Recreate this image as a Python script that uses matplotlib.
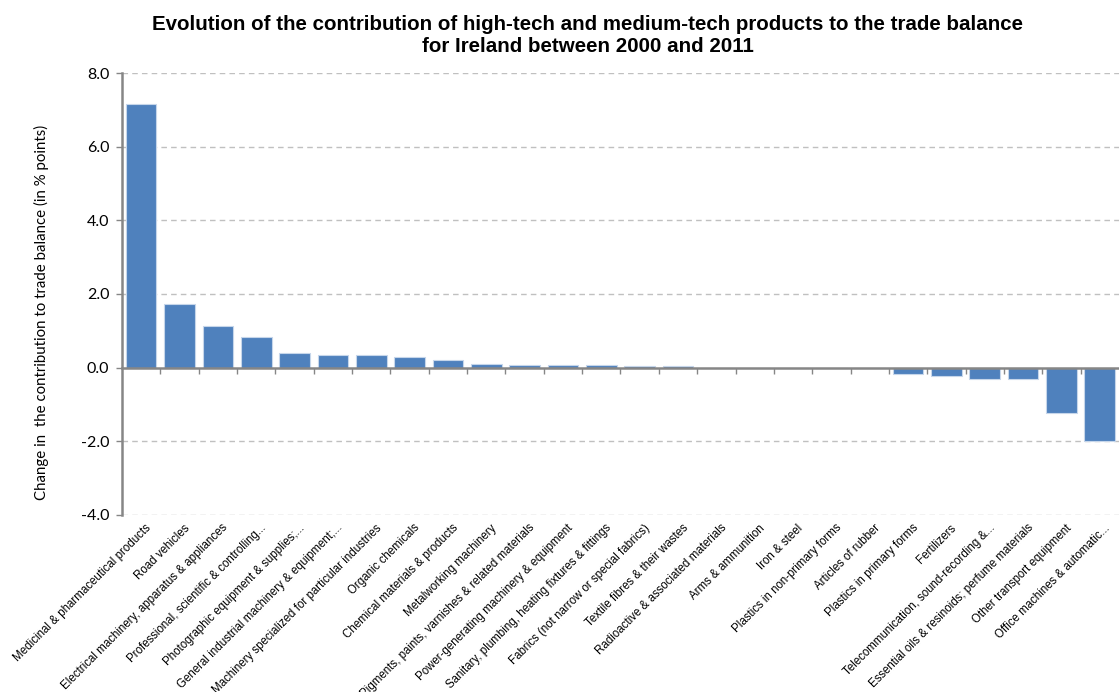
import matplotlib
matplotlib.use("Agg")
import matplotlib.pyplot as plt
import matplotlib.transforms as mtransforms
import numpy as np

# ===============================
# Data
# ===============================

products = [
    "Medicinal & pharmaceutical products",
    "Road vehicles",
    "Electrical machinery, apparatus & appliances",
    "Professional, scientific & controlling...",
    "Photographic equipment & supplies;...",
    "General industrial machinery & equipment;...",
    "Machinery specialized for particular industries",
    "Organic chemicals",
    "Chemical materials & products",
    "Metalworking machinery",
    "Pigments, paints, varnishes & related materials",
    "Power-generating machinery & equipment",
    "Sanitary, plumbing, heating fixtures & fittings",
    "Fabrics (not narrow or special fabrics)",
    "Textile fibres & their wastes",
    "Radioactive & associated materials",
    "Arms & ammunition",
    "Iron & steel",
    "Plastics in non-primary forms",
    "Articles of rubber",
    "Plastics in primary forms",
    "Fertilizers",
    "Telecommunication, sound-recording &...",
    "Essential oils & resinoids; perfume materials",
    "Other transport equipment",
    "Office machines & automatic...",
]

change = [
    7.17, 1.74, 1.14, 0.82, 0.41, 0.35, 0.35, 0.29, 0.22, 0.11,
    0.06, 0.06, 0.06, 0.05, 0.05, 0.0, 0.0, 0.0, 0.0, 0.0,
    -0.17, -0.22, -0.32, -0.32, -1.23, -2.0,
]

y_ticks = [-4.0, -2.0, 0.0, 2.0, 4.0, 6.0, 8.0]

# ===============================
# Plot
# ===============================

fig = plt.figure(figsize=(11.19, 6.92), dpi=100)
ax = fig.add_axes([0.109, 0.2558, 0.891, 0.6387])

x = np.arange(len(products))
ax.bar(x, change, width=0.8, color="#4F81BD", edgecolor="#c6d6ea",
       linewidth=0.8, zorder=3)

ax.set_xlim(-0.5, len(products) - 0.5)
ax.set_ylim(-4.0, 8.0)
ax.set_yticks(y_ticks)
ax.set_yticklabels([f"{v:.1f}" for v in y_ticks], fontfamily="Lato",
                   fontsize=11.5)

# dashed grid, except at zero where the axis line sits
for v in y_ticks:
    if v != 0:
        ax.axhline(v, color="#c0c0c0", linestyle=(0, (4, 3)), linewidth=1,
                   zorder=1)

for side in ["top", "right"]:
    ax.spines[side].set_visible(False)
ax.spines["left"].set_color("#868686")
ax.spines["left"].set_linewidth(1.8)
ax.spines["bottom"].set_position(("data", 0))
ax.spines["bottom"].set_color("#868686")
ax.spines["bottom"].set_linewidth(1.8)
ax.spines["bottom"].set_zorder(4)

ax.tick_params(axis="y", length=4, color="#868686", width=1, pad=5)
ax.set_xticks(x)
ax.set_xticklabels([])
ax.tick_params(axis="x", which="major", length=0)
ax.set_xticks(x[:-1] + 0.5, minor=True)
ax.tick_params(axis="x", which="minor", length=4, color="#868686",
               width=1, direction="out")

# rotated category labels below the plot area
offset = mtransforms.ScaledTranslation(4 / 100, -7 / 100, fig.dpi_scale_trans)
for i, name in enumerate(products):
    ax.text(i, -4.0, name, rotation=45, ha="right", va="top",
            rotation_mode="anchor", fontsize=8.3,
            family=["Liberation Sans Narrow", "Liberation Sans"],
            transform=ax.transData + offset)

fig.text(0.0375, 1 - 312 / 692,
         "Change in  the contribution to trade balance (in % points)",
         rotation=90, ha="center", va="center", fontfamily="Lato",
         fontsize=10.8)

fig.text(0.525, 0.978,
         "Evolution of the contribution of high-tech and medium-tech products to the trade balance\nfor Ireland between 2000 and 2011",
         ha="center", va="top", fontsize=14.8, fontweight="bold",
         family="Liberation Sans", linespacing=1.2)

fig.savefig("out.png", dpi=100)
